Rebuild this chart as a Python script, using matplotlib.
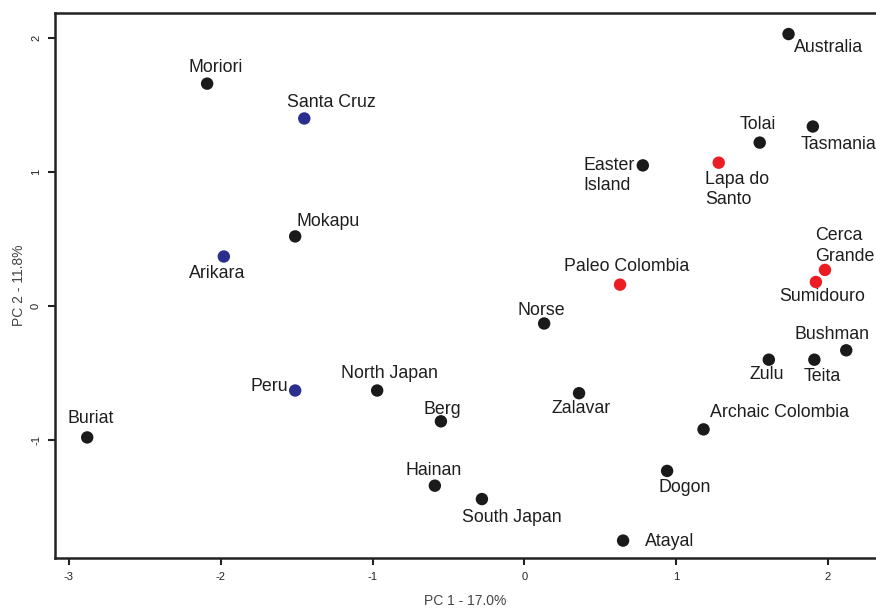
import matplotlib
matplotlib.use("Agg")
import matplotlib.pyplot as plt

plt.rcParams["font.family"] = ["Liberation Sans", "DejaVu Sans"]
plt.rcParams["axes.unicode_minus"] = False

# populations, PC scores, group
names = ["Australia", "Moriori", "Santa Cruz", "Tolai", "Tasmania", "Easter\nIsland",
         "Lapa do\nSanto", "Mokapu", "Arikara", "Cerca\nGrande", "Sumidouro",
         "Paleo Colombia", "Norse", "Bushman", "Zulu", "Teita", "Peru", "North Japan",
         "Zalavar", "Berg", "Buriat", "Archaic Colombia", "Dogon", "Hainan",
         "South Japan", "Atayal"]
pc1 = [1.74, -2.09, -1.45, 1.55, 1.90, 0.78, 1.28, -1.51, -1.98, 1.98, 1.92,
       0.63, 0.13, 2.12, 1.61, 1.91, -1.51, -0.97, 0.36, -0.55, -2.88, 1.18,
       0.94, -0.59, -0.28, 0.65]
pc2 = [2.03, 1.66, 1.40, 1.22, 1.34, 1.05, 1.07, 0.52, 0.37, 0.27, 0.18,
       0.16, -0.13, -0.33, -0.40, -0.40, -0.63, -0.63, -0.65, -0.86, -0.98, -0.92,
       -1.23, -1.34, -1.44, -1.75]
group = ["k", "k", "b", "k", "k", "k", "r", "k", "b", "r", "r",
         "r", "k", "k", "k", "k", "b", "k", "k", "k", "k", "k",
         "k", "k", "k", "k"]

colors = {"k": "#1a1a1a", "b": "#2a2e8c", "r": "#ec1c24"}

# label offsets in pixels (dx, dy, ha)
offsets = {
    "Australia": (5, -13, "left"), "Moriori": (9, 16, "center"),
    "Santa Cruz": (27, 16, "center"), "Tolai": (-2, 18, "center"),
    "Tasmania": (26, -18, "center"), "Easter\nIsland": (-59, -10, "left"),
    "Lapa do\nSanto": (-14, -27, "left"), "Mokapu": (33, 15, "center"),
    "Arikara": (-7, -17, "center"), "Cerca\nGrande": (-10, 24, "left"),
    "Sumidouro": (6, -15, "center"), "Paleo Colombia": (7, 18, "center"),
    "Norse": (-3, 13, "center"), "Bushman": (-14, 16, "center"),
    "Zulu": (-2, -15, "center"), "Teita": (8, -17, "center"),
    "Peru": (-26, 4, "center"), "North Japan": (12, 17, "center"),
    "Zalavar": (2, -15, "center"), "Berg": (1, 12, "center"),
    "Buriat": (3, 19, "center"), "Archaic Colombia": (76, 17, "center"),
    "Dogon": (18, -17, "center"), "Hainan": (-1, 15, "center"),
    "South Japan": (30, -18, "center"), "Atayal": (47, -1, "center"),
}

fig = plt.figure(figsize=(8.76, 6.08), dpi=100)
ax = fig.add_axes([0.0628, 0.0822, 0.9372, 0.8964])

ax.scatter(pc1, pc2, s=80, c=[colors[g] for g in group], linewidths=0, zorder=3)

for n, x, y in zip(names, pc1, pc2):
    dx, dy, ha = offsets[n]
    ax.annotate(n, (x, y), xytext=(dx, dy), textcoords="offset pixels",
                ha=ha, va="center", fontsize=12.8, color="#1e1e1e",
                linespacing=1.25)

ax.set_xlim(-3.092, 2.316)
ax.set_ylim(-1.88, 2.187)
ax.set_xticks([-3, -2, -1, 0, 1, 2])
ax.set_yticks([-1, 0, 1, 2])
ax.tick_params(direction="out", length=5, width=1.5, labelsize=8,
               colors="#222222", pad=5)
for lab in ax.get_yticklabels():
    lab.set_rotation(90)
    lab.set_va("center")

for s in ["left", "bottom", "top"]:
    ax.spines[s].set_linewidth(1.8)
    ax.spines[s].set_color("#222222")
ax.spines["right"].set_visible(False)

ax.set_xlabel("PC 1 - 17.0%", fontsize=10, color="#444444", labelpad=9)
ax.set_ylabel("PC 2 - 11.8%", fontsize=10, color="#444444", labelpad=4)

fig.savefig("out.png", dpi=100)
